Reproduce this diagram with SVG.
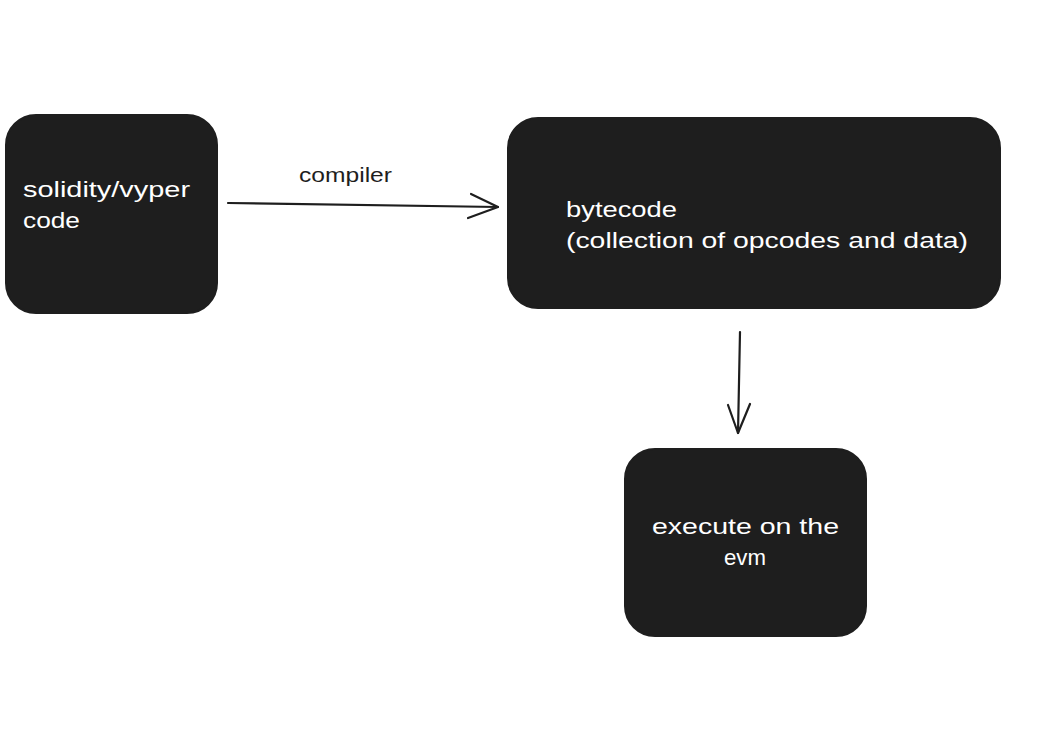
<svg xmlns="http://www.w3.org/2000/svg" width="1052" height="730" viewBox="0 0 1052 730">
<style>
.box{fill:#1e1e1e;stroke:#1e1e1e;stroke-width:2}
.lbl{font-family:"Liberation Sans",Arial,sans-serif;font-size:22px;fill:#ffffff}
.edge{font-family:"Liberation Sans",Arial,sans-serif;font-size:21px;fill:#1e1e1e}
.conn{fill:none;stroke:#1e1e1e;stroke-width:2.2;stroke-linecap:round;stroke-linejoin:round}
</style>
<rect width="1052" height="730" fill="#ffffff"/>
<g id="node-source">
<rect class="box" x="6" y="115" width="211" height="198" rx="30"/>
<text class="lbl" x="23" y="197" textLength="167" lengthAdjust="spacingAndGlyphs">solidity/vyper</text>
<text class="lbl" x="23" y="228" textLength="57" lengthAdjust="spacingAndGlyphs">code</text>
</g>
<g id="node-bytecode">
<rect class="box" x="508" y="118" width="492" height="190" rx="30"/>
<text class="lbl" x="566" y="217" textLength="111" lengthAdjust="spacingAndGlyphs">bytecode</text>
<text class="lbl" x="566" y="248" textLength="402" lengthAdjust="spacingAndGlyphs">(collection of opcodes and data)</text>
</g>
<g id="node-evm">
<rect class="box" x="625" y="449" width="241" height="187" rx="30"/>
<text class="lbl" x="652" y="534" textLength="187" lengthAdjust="spacingAndGlyphs">execute on the</text>
<text class="lbl" x="724" y="565" textLength="42" lengthAdjust="spacingAndGlyphs">evm</text>
</g>
<g id="connectors">
<path class="conn" d="M228 203 L498 207"/>
<path class="conn" d="M471 194 L498 207 L468 218"/>
<text class="edge" x="299" y="182" textLength="93" lengthAdjust="spacingAndGlyphs">compiler</text>
<path class="conn" d="M740 332 L738 433"/>
<path class="conn" d="M728 405 L738 433 L750 404"/>
</g>
</svg>
